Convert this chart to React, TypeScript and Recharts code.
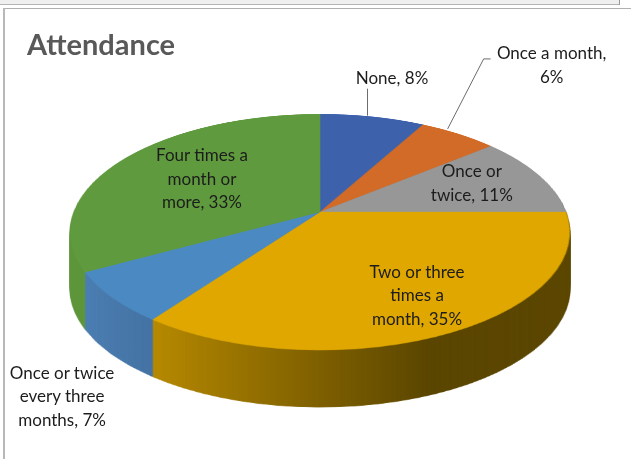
import React from 'react';
import { PieChart, Pie, Cell } from 'recharts';

// ---- data ----
const categories = [
  'None',
  'Once a month',
  'Once or twice',
  'Two or three times a month',
  'Once or twice every three months',
  'Four times a month or more',
];
const values = [8, 6, 11, 35, 7, 33];
const labelLines = [
  ['None, 8%'],
  ['Once a month,', '6%'],
  ['Once or', 'twice, 11%'],
  ['Two or three', 'times a', 'month, 35%'],
  ['Once or twice', 'every three', 'months, 7%'],
  ['Four times a', 'month or', 'more, 33%'],
];
const title = 'Attendance';

// ---- styles ----
const topColors = ['#3D62AB', '#D16B27', '#979797', '#DFA700', '#4A89C1', '#5F9A3E'];
const sideLight = ['#34548F', '#B35A1F', '#858585', '#D29D00', '#4A7DB2', '#5C9539'];
const sideDark = ['#1F3358', '#5E300F', '#4A4A4A', '#5A4500', '#2C4C72', '#3A6024'];

const W = 631;
const H = 459;
const CX = 320;
const CY = 212;
const R = 246;
const TILT = 62.23;
const PERSP = 1280;
const DEPTH = 57;
const SIZE = 2 * R + 8;
const HALF = SIZE / 2;

const labelRho = [1, 1, 0.677, 0.7256, 1, 0.5805];
const labelDx = [19.5, 93, 1, 6, -50, -1];
const labelDy = [-40, -70, -4.5, -1, 97.6, -2];
const LH = 23.5;

const data = categories.map((name, i) => ({ name, value: values[i] }));

const RAD = Math.PI / 180;
function project(cx: number, cy: number, angle: number, r: number) {
  const xp = r * Math.cos(angle * RAD);
  const yp = r * Math.sin(angle * RAD);
  const z = yp * Math.sin(TILT * RAD);
  const f = PERSP / (PERSP + z);
  return [cx + xp * f, cy - yp * Math.cos(TILT * RAD) * f];
}

function Disc({ shift, side, id }: { shift: number; side: boolean; id: number }) {
  return (
    <div
      style={{
        position: 'absolute',
        left: CX - HALF,
        top: CY - HALF + shift,
        width: SIZE,
        height: SIZE,
        transform: `perspective(${PERSP}px) rotateX(${TILT}deg)`,
        transformOrigin: '50% 50%',
      }}
    >
      <PieChart width={SIZE} height={SIZE} margin={{ top: 0, left: 0, right: 0, bottom: 0 }}>
        {side && (
          <defs>
            {sideLight.map((c, i) => (
              <linearGradient
                key={i}
                id={`sg${id}-${i}`}
                gradientUnits="userSpaceOnUse"
                x1={HALF - 215}
                y1={0}
                x2={HALF + 90}
                y2={0}
              >
                <stop offset="0" stopColor={c} />
                <stop offset="1" stopColor={sideDark[i]} />
              </linearGradient>
            ))}
          </defs>
        )}
        <Pie
          data={data}
          dataKey="value"
          nameKey="name"
          cx={HALF}
          cy={HALF}
          innerRadius={0}
          outerRadius={R}
          startAngle={90}
          endAngle={-270}
          isAnimationActive={false}
          stroke="none"
        >
          {data.map((d, i) => {
            const f = side ? `url(#sg${id}-${i})` : topColors[i];
            return <Cell key={i} fill={f} stroke={f} strokeWidth={side ? 1 : 0.6} />;
          })}
        </Pie>
      </PieChart>
    </div>
  );
}

const renderLabel = (p: any) => {
  const i = p.index;
  const [ax, ay] = project(p.cx, p.cy, p.midAngle, p.outerRadius * labelRho[i]);
  const lx = ax + labelDx[i];
  const ly = ay + labelDy[i];
  const lines = labelLines[i];
  const y0 = ly - ((lines.length - 1) * LH) / 2;
  let leader = null;
  if (i === 0) {
    leader = <line x1={ax - 5} y1={ay - 1} x2={ax - 5} y2={ly + 12} stroke="#6b6b6b" strokeWidth={1} />;
  } else if (i === 1) {
    leader = (
      <polyline
        points={`${ax - 11},${ay - 5} ${lx - 68},${ly - 5} ${lx - 61},${ly - 5}`}
        fill="none"
        stroke="#6b6b6b"
        strokeWidth={1}
      />
    );
  }
  return (
    <g key={`lbl-${i}`}>
      {leader}
      <text
        x={lx}
        y={y0}
        textAnchor="middle"
        dominantBaseline="central"
        fontFamily="Lato, 'Open Sans', sans-serif"
        fontSize={17}
        fill="#1c1c1c"
      >
        {lines.map((t, j) => (
          <tspan key={j} x={lx} y={y0 + j * LH} dominantBaseline="central">
            {t}
          </tspan>
        ))}
      </text>
    </g>
  );
};

export default function App() {
  const layers = [];
  for (let k = DEPTH; k >= 1; k--) {
    layers.push(<Disc key={k} shift={k} side={true} id={k} />);
  }
  return (
    <div
      style={{
        position: 'absolute',
        left: 0,
        top: 0,
        width: W,
        height: H,
        background: '#ffffff',
        overflow: 'hidden',
      }}
    >
      {layers}
      <Disc shift={0} side={false} id={0} />
      <div style={{ position: 'absolute', left: 0, top: 0, width: W, height: H }}>
        <PieChart width={W} height={H} margin={{ top: 0, left: 0, right: 0, bottom: 0 }}>
          <text
            x={27}
            y={55}
            fontFamily="Lato, 'Open Sans', sans-serif"
            fontWeight="bold"
            fontSize={29}
            fill="#595959"
          >
            {title}
          </text>
          <Pie
            data={data}
            dataKey="value"
            nameKey="name"
            cx={CX}
            cy={CY}
            outerRadius={R}
            startAngle={90}
            endAngle={-270}
            isAnimationActive={false}
            fill="transparent"
            fillOpacity={0}
            stroke="none"
            label={renderLabel}
            labelLine={false}
          />
        </PieChart>
      </div>
      <div style={{ position: 'absolute', left: 0, top: 0, width: 620, height: 4, background: '#efefef', borderBottom: '1px solid #b5b5b5' }} />
      <div style={{ position: 'absolute', left: 619, top: 0, width: 1, height: 5, background: '#9a9a9a' }} />
      <div style={{ position: 'absolute', left: 3, top: 8, width: W - 3, height: 1, background: '#b0b0b0' }} />
      <div style={{ position: 'absolute', left: 3, top: 8, width: 2, height: H - 8, background: '#b8b8b8' }} />
    </div>
  );
}
